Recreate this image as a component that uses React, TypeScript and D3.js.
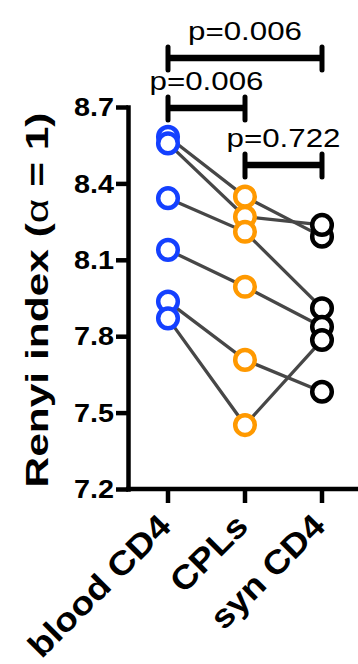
import { useEffect, useRef } from 'react';
import * as d3 from 'd3';

const categories = ['blood CD4', 'CPLs', 'syn CD4'];
const bloodCD4 = [8.583, 8.557, 8.342, 8.139, 7.936, 7.87];
const cpls = [8.348, 8.269, 8.21, 7.994, 7.707, 7.451];
const synCD4 = [8.191, 8.237, 7.91, 7.837, 7.582, 7.785];
const yTicks = [7.2, 7.5, 7.8, 8.1, 8.4, 8.7];
const groupColors = ['#1440ff', '#ff9900', '#000000'];
const comparisons = [
  { from: 'blood CD4', to: 'syn CD4', label: 'p=0.006' },
  { from: 'blood CD4', to: 'CPLs', label: 'p=0.006' },
  { from: 'CPLs', to: 'syn CD4', label: 'p=0.722' },
];

export default function App() {
  const svgRef = useRef<SVGSVGElement>(null);

  useEffect(() => {
    if (!svgRef.current) return;
    const svg = d3.select(svgRef.current);
    svg.selectAll('*').remove();

    const font = '"Liberation Sans", Arial, sans-serif';
    const x = d3.scalePoint<string>().domain(categories).range([168, 322]);
    const y = d3.scaleLinear().domain([7.2, 8.7]).range([489, 107]);

    // y axis
    const yAxis = svg
      .append('g')
      .attr('transform', 'translate(128,0)')
      .call(d3.axisLeft(y).tickValues(yTicks).tickSize(12).tickSizeOuter(0).tickFormat(d3.format('.1f')));
    yAxis.select('.domain').attr('stroke', '#000').attr('stroke-width', 4.5).attr('stroke-linecap', 'square');
    yAxis.selectAll('.tick line').attr('stroke', '#000').attr('stroke-width', 4.5);
    yAxis
      .selectAll('.tick text')
      .attr('x', -14)
      .attr('dy', '0.35em')
      .attr('font-family', font)
      .attr('font-weight', 'bold')
      .attr('font-size', 25)
      .attr('textLength', 40)
      .attr('lengthAdjust', 'spacingAndGlyphs')
      .attr('fill', '#000');

    // x axis
    svg
      .append('line')
      .attr('x1', 126)
      .attr('x2', 358)
      .attr('y1', y(7.2))
      .attr('y2', y(7.2))
      .attr('stroke', '#000')
      .attr('stroke-width', 4.5);
    const xLens: Record<string, number> = { 'blood CD4': 186, CPLs: 94, 'syn CD4': 146 };
    categories.forEach((c) => {
      svg
        .append('line')
        .attr('x1', x(c)!)
        .attr('x2', x(c)!)
        .attr('y1', y(7.2))
        .attr('y2', y(7.2) + 14)
        .attr('stroke', '#000')
        .attr('stroke-width', 4.5);
      svg
        .append('text')
        .attr('transform', `translate(${x(c)! + 5},${y(7.2) + 39}) rotate(-45)`)
        .attr('text-anchor', 'end')
        .attr('font-family', font)
        .attr('font-weight', 'bold')
        .attr('font-size', 33)
        .attr('textLength', xLens[c])
        .attr('lengthAdjust', 'spacingAndGlyphs')
        .text(c);
    });

    // y title
    const title = svg
      .append('text')
      .attr('transform', 'translate(48,300) rotate(-90)')
      .attr('text-anchor', 'middle')
      .attr('font-family', font)
      .attr('font-weight', 'bold')
      .attr('font-size', 32)
      .attr('textLength', 375)
      .attr('lengthAdjust', 'spacingAndGlyphs');
    title.append('tspan').text('Renyi index (');
    title.append('tspan').attr('font-weight', 'normal').text('α');
    title.append('tspan').text(' = 1)');

    // paired lines
    const rows = bloodCD4.map((b, i) => [b, cpls[i], synCD4[i]]);
    const line = d3
      .line<number>()
      .x((_, i) => x(categories[i])!)
      .y((d) => y(d));
    svg
      .append('g')
      .selectAll('path')
      .data(rows)
      .enter()
      .append('path')
      .attr('d', (d) => line(d))
      .attr('fill', 'none')
      .attr('stroke', '#474747')
      .attr('stroke-width', 3.3);

    // points
    [bloodCD4, cpls, synCD4].forEach((vals, gi) => {
      svg
        .append('g')
        .selectAll('circle')
        .data(vals)
        .enter()
        .append('circle')
        .attr('cx', x(categories[gi])!)
        .attr('cy', (d) => y(d))
        .attr('r', 9.8)
        .attr('fill', '#fff')
        .attr('stroke', groupColors[gi])
        .attr('stroke-width', 4.5);
    });

    // significance brackets
    const bracketY = [58, 108, 165];
    comparisons.forEach((cmp, i) => {
      const x1 = x(cmp.from)!;
      const x2 = x(cmp.to)!;
      const by = bracketY[i];
      const g = svg.append('g').attr('stroke', '#000');
      g.append('line').attr('x1', x1).attr('x2', x2).attr('y1', by).attr('y2', by).attr('stroke-width', 6.5);
      [x1, x2].forEach((xx) =>
        g
          .append('line')
          .attr('x1', xx)
          .attr('x2', xx)
          .attr('y1', by - 11)
          .attr('y2', by + 12)
          .attr('stroke-width', 5)
          .attr('stroke-linecap', 'round')
      );
      svg
        .append('text')
        .attr('x', (x1 + x2) / 2)
        .attr('y', by - 18)
        .attr('text-anchor', 'middle')
        .attr('font-family', font)
        .attr('font-size', 26)
        .attr('textLength', 114)
        .attr('lengthAdjust', 'spacingAndGlyphs')
        .text(cmp.label);
    });
  }, []);

  return (
    <svg
      ref={svgRef}
      width={358}
      height={664}
      style={{ position: 'absolute', left: 0, top: 0, background: '#fff' }}
    />
  );
}
